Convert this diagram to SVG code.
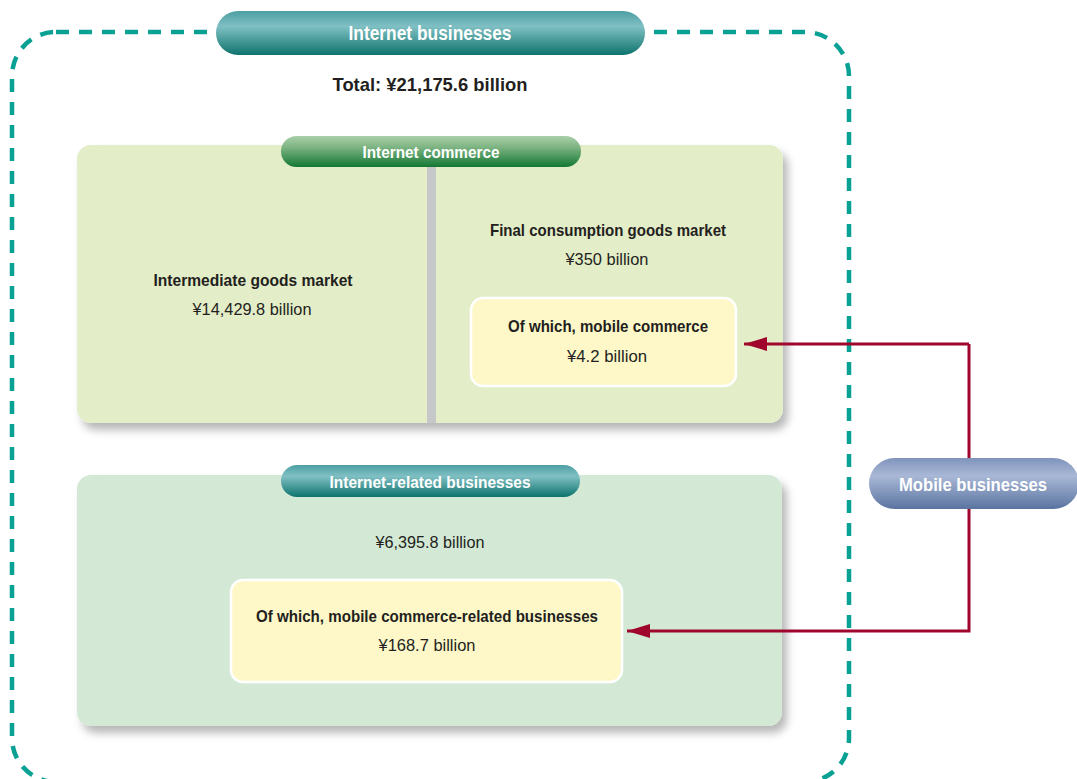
<svg xmlns="http://www.w3.org/2000/svg" width="1077" height="779" viewBox="0 0 1077 779">
<style>
.t{font-family:"Liberation Sans",Arial,sans-serif;fill:#231f20;text-anchor:middle}
.b{font-weight:bold}
.w{fill:#ffffff;font-weight:bold;font-family:"Liberation Sans",Arial,sans-serif;text-anchor:middle}
.conn{fill:none;stroke:#a0062c;stroke-width:3}
.yel{fill:#fef8c9;stroke:#ffffff;stroke-width:2.5}
</style>
<defs>
<linearGradient id="gTeal" x1="0" y1="0" x2="0" y2="1">
<stop offset="0" stop-color="#4c9fa3"/>
<stop offset="0.35" stop-color="#80c0c4"/>
<stop offset="1" stop-color="#0d736c"/>
</linearGradient>
<linearGradient id="gGreen" x1="0" y1="0" x2="0" y2="1">
<stop offset="0" stop-color="#a9cfa9"/>
<stop offset="0.35" stop-color="#7fb584"/>
<stop offset="1" stop-color="#137834"/>
</linearGradient>
<linearGradient id="gBlue" x1="0" y1="0" x2="0" y2="1">
<stop offset="0" stop-color="#7f93bb"/>
<stop offset="0.35" stop-color="#a9b8d6"/>
<stop offset="1" stop-color="#5a74a0"/>
</linearGradient>
<filter id="sh" x="-5%" y="-5%" width="115%" height="120%">
<feDropShadow dx="5" dy="7" stdDeviation="4" flood-color="#000" flood-opacity="0.28"/>
</filter>
<marker id="ah" markerWidth="24" markerHeight="16" refX="23" refY="7" orient="auto" markerUnits="userSpaceOnUse">
<path d="M0,0 L23,7 L0,14 Z" fill="#a0062c"/>
</marker>
</defs>

<g id="outer">
<rect x="12" y="32" width="837" height="750" rx="44" fill="none" stroke="#0aa195" stroke-width="4.5" stroke-dasharray="13 10"/>
</g>

<g id="internet-commerce">
<rect x="77" y="145" width="706" height="278" rx="14" fill="#e3edc8" filter="url(#sh)"/>
<rect x="427" y="166" width="9" height="257" fill="#c6c7c8"/>
</g>

<g id="internet-related">
<rect x="77" y="475" width="705" height="251" rx="14" fill="#d3e9d5" filter="url(#sh)"/>
</g>

<g id="connectors">
<polyline class="conn" points="969,344 969,631 627,631" marker-end="url(#ah)"/>
<line class="conn" x1="969" y1="344" x2="744" y2="344" marker-end="url(#ah)"/>
</g>

<g id="internet-businesses">
<rect x="216" y="11" width="429" height="44" rx="22" fill="url(#gTeal)"/>
<text class="w" x="430" y="40" font-size="20" textLength="163" lengthAdjust="spacingAndGlyphs">Internet businesses</text>
<text class="t b" x="430" y="91" font-size="19" textLength="195" lengthAdjust="spacingAndGlyphs">Total: ¥21,175.6 billion</text>
</g>

<g id="internet-commerce-label">
<rect x="281" y="136" width="300" height="31" rx="15.5" fill="url(#gGreen)"/>
<text class="w" x="431" y="158" font-size="17" textLength="137" lengthAdjust="spacingAndGlyphs">Internet commerce</text>
</g>

<g id="intermediate">
<text class="t b" x="253" y="286" font-size="17" textLength="199" lengthAdjust="spacingAndGlyphs">Intermediate goods market</text>
<text class="t" x="252" y="315" font-size="17" textLength="119" lengthAdjust="spacingAndGlyphs">¥14,429.8 billion</text>
</g>

<g id="final-consumption">
<text class="t b" x="608" y="236" font-size="17" textLength="236" lengthAdjust="spacingAndGlyphs">Final consumption goods market</text>
<text class="t" x="607" y="265" font-size="17" textLength="83" lengthAdjust="spacingAndGlyphs">¥350 billion</text>
</g>

<g id="mobile-commerce">
<rect class="yel" x="471" y="298" width="265" height="88" rx="12"/>
<text class="t b" x="608" y="332" font-size="17" textLength="200" lengthAdjust="spacingAndGlyphs">Of which, mobile commerce</text>
<text class="t" x="607" y="362" font-size="17" textLength="80" lengthAdjust="spacingAndGlyphs">¥4.2 billion</text>
</g>

<g id="internet-related-label">
<rect x="281" y="465" width="299" height="32" rx="16" fill="url(#gTeal)"/>
<text class="w" x="430" y="488" font-size="17" textLength="201" lengthAdjust="spacingAndGlyphs">Internet-related businesses</text>
<text class="t" x="430" y="548" font-size="17" textLength="109" lengthAdjust="spacingAndGlyphs">¥6,395.8 billion</text>
</g>

<g id="mobile-commerce-related">
<rect class="yel" x="231" y="580" width="391" height="102" rx="12"/>
<text class="t b" x="427" y="622" font-size="17" textLength="342" lengthAdjust="spacingAndGlyphs">Of which, mobile commerce-related businesses</text>
<text class="t" x="427" y="651" font-size="17" textLength="97" lengthAdjust="spacingAndGlyphs">¥168.7 billion</text>
</g>

<g id="mobile-businesses">
<rect x="869" y="458" width="210" height="51" rx="25.5" fill="url(#gBlue)"/>
<text class="w" x="973" y="491" font-size="19" textLength="148" lengthAdjust="spacingAndGlyphs">Mobile businesses</text>
</g>
</svg>
